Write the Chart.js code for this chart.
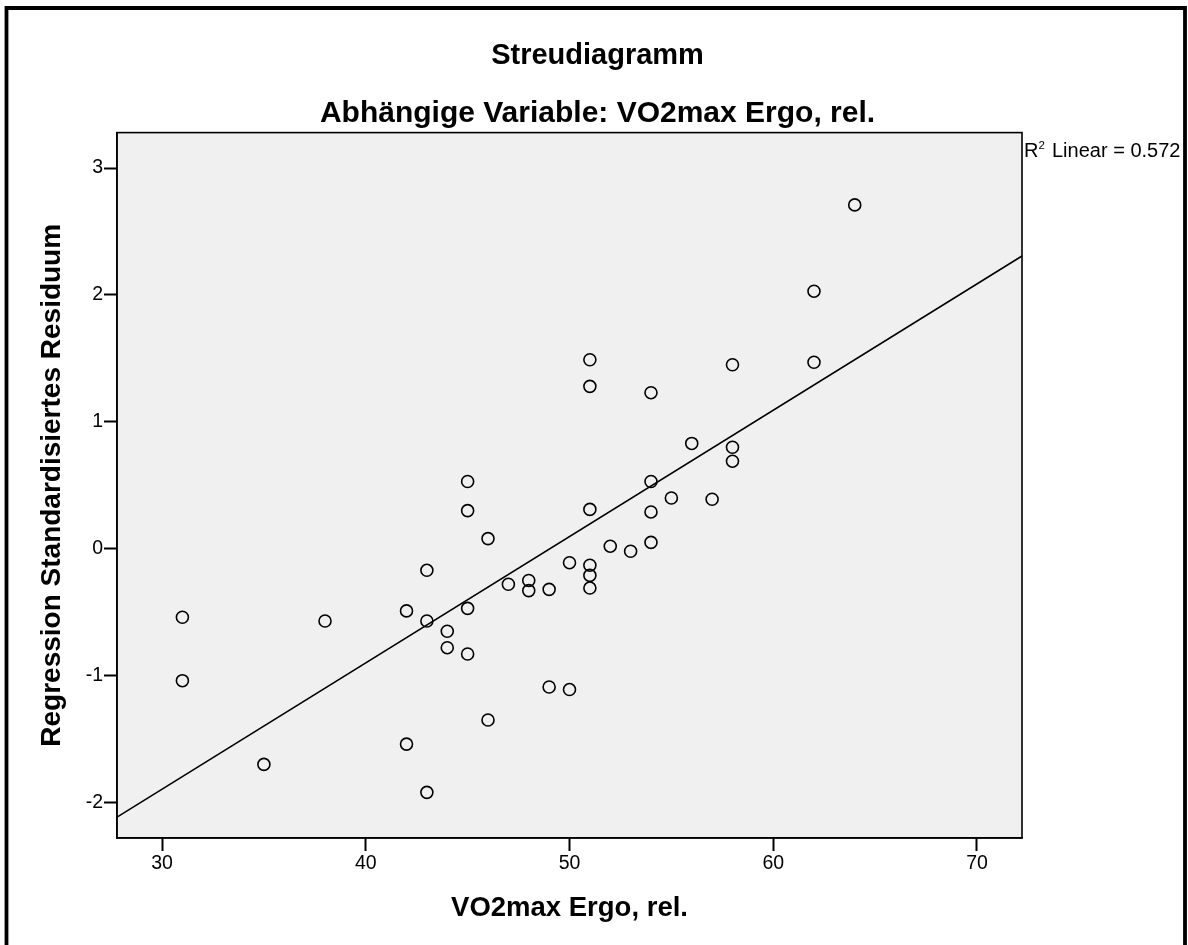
<!DOCTYPE html>
<html>
<head>
<meta charset="utf-8">
<script src="https://cdn.jsdelivr.net/npm/chart.js@4.4.1/dist/chart.umd.min.js"></script>
<style>
html,body{margin:0;padding:0;background:#fff;}
canvas{display:block;}
</style>
</head>
<body>
<canvas id="c" width="1188" height="945"></canvas>
<script>
// ---- data ----
const vo2max = [31, 31, 35, 38, 42, 42, 43, 43, 43, 44, 44, 45, 45, 45, 45, 46, 46, 47, 48, 48, 49, 49, 50, 50,
                51, 51, 51, 51, 51, 51, 52, 53, 54, 54, 54, 54, 55, 56, 57, 58, 58, 58, 62, 62, 64];
const residuals = [-0.54, -1.04, -1.70, -0.57, -0.49, -1.54, -0.17, -0.57, -1.92, -0.65, -0.78, 0.53, 0.30, -0.47, -0.83,
                   0.08, -1.35, -0.28, -0.25, -0.33, -0.32, -1.09, -0.11, -1.11,
                   1.49, 1.28, 0.31, -0.13, -0.21, -0.31, 0.02, -0.02, 1.23, 0.53, 0.29, 0.05, 0.40, 0.83, 0.39,
                   1.45, 0.80, 0.69, 2.03, 1.47, 2.71];
const fitLineX = [27.79, 72.21];
const fitLineY = [-2.115, 2.307];
const xTicks = [30, 40, 50, 60, 70];
const yTicks = [-2, -1, 0, 1, 2, 3];
const xRange = [27.79, 72.21];
const yRange = [-2.28, 3.28];
const r2Text = 'Linear = 0.572';

const FONT = '"Liberation Sans", Arial, Helvetica, sans-serif';

const scatterPoints = vo2max.map((x, i) => ({x: x, y: residuals[i]}));
const linePoints = fitLineX.map((x, i) => ({x: x, y: fitLineY[i]}));

const framePlugin = {
  id: 'frame',
  beforeDraw(chart) {
    const {ctx, chartArea: a} = chart;
    ctx.save();
    ctx.fillStyle = '#f0f0f0';
    ctx.fillRect(a.left, a.top, a.right - a.left, a.bottom - a.top);
    ctx.restore();
  },
  afterDatasetsDraw(chart) {
    const {ctx, chartArea: a} = chart;
    ctx.save();
    ctx.strokeStyle = '#000';
    ctx.lineWidth = 1.6;
    ctx.strokeRect(a.left, a.top, a.right - a.left, a.bottom - a.top);
    ctx.restore();
  },
  afterDraw(chart) {
    const {ctx, chartArea: a} = chart;
    ctx.save();
    // outer frame (left, top, right)
    ctx.strokeStyle = '#000';
    ctx.lineWidth = 3.8;
    ctx.lineJoin = 'miter';
    ctx.beginPath();
    ctx.moveTo(6.5, 950);
    ctx.lineTo(6.5, 8);
    ctx.lineTo(1185, 8);
    ctx.lineTo(1185, 950);
    ctx.stroke();
    // R² label
    ctx.fillStyle = '#000';
    ctx.textBaseline = 'alphabetic';
    ctx.textAlign = 'left';
    const x0 = a.right + 2;
    const base = 157;
    ctx.font = '20px ' + FONT;
    ctx.fillText('R', x0, base);
    const wR = ctx.measureText('R').width;
    ctx.font = '11.5px ' + FONT;
    ctx.fillText('2', x0 + wR, base - 8);
    ctx.font = '20px ' + FONT;
    ctx.fillText(r2Text, x0 + 28, base);
    ctx.restore();
  }
};

new Chart(document.getElementById('c'), {
  data: {
    datasets: [
      {
        type: 'scatter',
        data: scatterPoints,
        pointStyle: 'circle',
        pointRadius: 6,
        pointHoverRadius: 6,
        pointBorderWidth: 1.6,
        pointBorderColor: '#000',
        pointBackgroundColor: 'rgba(0,0,0,0)',
        order: 1
      },
      {
        type: 'line',
        data: linePoints,
        borderColor: '#000',
        borderWidth: 1.6,
        pointRadius: 0,
        fill: false,
        tension: 0,
        order: 2
      }
    ]
  },
  plugins: [framePlugin],
  options: {
    responsive: false,
    animation: false,
    devicePixelRatio: 1,
    layout: {padding: {left: 7, top: 0, right: 0, bottom: 0}},
    plugins: {
      legend: {display: false},
      tooltip: {enabled: false},
      title: {
        display: true,
        text: 'Streudiagramm',
        color: '#000',
        font: {family: FONT, size: 29, weight: 'bold', lineHeight: 1.2},
        padding: {top: 38.6, bottom: 0}
      },
      subtitle: {
        display: true,
        text: 'Abhängige Variable: VO2max Ergo, rel.',
        color: '#000',
        font: {family: FONT, size: 30, weight: 'bold', lineHeight: 1.2},
        padding: {top: 22.6, bottom: 0.6}
      }
    },
    scales: {
      x: {
        type: 'linear',
        position: 'bottom',
        min: xRange[0],
        max: xRange[1],
        afterBuildTicks: s => { s.ticks = xTicks.map(v => ({value: v})); },
        afterFit: s => { s.height = 107; },
        ticks: {
          color: '#000',
          padding: 1,
          font: {family: FONT, size: 19.5},
          callback: v => String(v),
          maxRotation: 0,
          autoSkip: false
        },
        grid: {
          display: true,
          drawOnChartArea: false,
          drawTicks: true,
          tickLength: 13,
          tickWidth: 2,
          tickColor: '#000'
        },
        border: {display: true, color: '#000', width: 1.6},
        title: {
          display: true,
          text: 'VO2max Ergo, rel.',
          color: '#000',
          font: {family: FONT, size: 27.5, weight: 'bold', lineHeight: 1.2},
          padding: {top: 0, bottom: 20.5}
        }
      },
      y: {
        type: 'linear',
        position: 'left',
        min: yRange[0],
        max: yRange[1],
        afterBuildTicks: s => { s.ticks = yTicks.map(v => ({value: v})); },
        afterFit: s => { s.width = 110; },
        ticks: {
          color: '#000',
          padding: 1,
          font: {family: FONT, size: 19.5},
          callback: v => String(v),
          autoSkip: false
        },
        grid: {
          display: true,
          drawOnChartArea: false,
          drawTicks: true,
          tickLength: 13,
          tickWidth: 2,
          tickColor: '#000'
        },
        border: {display: true, color: '#000', width: 1.6},
        title: {
          display: true,
          text: 'Regression Standardisiertes Residuum',
          color: '#000',
          font: {family: FONT, size: 28, weight: 'bold', lineHeight: 1.2},
          padding: {top: 28.2, bottom: 0}
        }
      },
      yRight: {
        type: 'linear',
        position: 'right',
        display: true,
        ticks: {display: false},
        grid: {display: false},
        border: {display: false},
        afterFit: s => { s.width = 166; }
      }
    }
  }
});
</script>
</body>
</html>
